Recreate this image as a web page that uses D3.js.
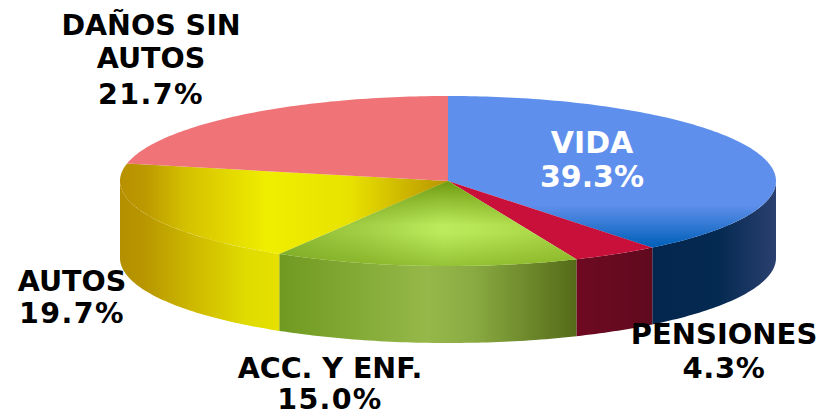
<!DOCTYPE html>
<html><head><meta charset="utf-8">
<script src="https://cdn.jsdelivr.net/npm/d3@7"></script>
<style>html,body{margin:0;background:#fff}svg{display:block}text{font-family:"DejaVu Sans",sans-serif;font-weight:700}</style>
</head><body><svg id="c" width="829" height="416"></svg>
<script>
const categories=["VIDA","PENSIONES","ACC. Y ENF.","AUTOS","DAÑOS SIN AUTOS"];
const values=[39.3,4.3,15.0,19.7,21.7];
const labelLines=[["VIDA","39.3%"],["PENSIONES","4.3%"],["ACC. Y ENF.","15.0%"],["AUTOS","19.7%"],["DAÑOS SIN","AUTOS","21.7%"]];
const topStops=[
 [[0,"#5f8fec"],[1,"#5f8fec"]],
 [[0,"#c8103a"],[1,"#c8103a"]],
 [[0,"#8ab832"],[.3,"#a3d046"],[.55,"#bcec5e"],[1,"#a4d03e"]],
 [[0,"#b89000"],[.08,"#bc9a00"],[.2,"#d4c000"],[.45,"#f0ee00"],[.7,"#e8e200"],[1,"#b89400"]],
 [[0,"#ef7377"],[1,"#ef7377"]]];
const wallStops=[
 [[0,"#03264e"],[.55,"#052a52"],[1,"#2b4070"]],
 [[0,"#6e0a22"],[1,"#600a1e"]],
 [[0,"#6f9a20"],[.5,"#96b84a"],[.65,"#8aab42"],[1,"#556b18"]],
 [[0,"#b48f00"],[.15,"#b89600"],[.45,"#cdb800"],[.8,"#e0dc00"],[1,"#e6e000"]],
 [[0,"#d0646a"],[1,"#d0646a"]]];
const labelLayout=[
 {x:592,y:[153,187],size:30,fill:"#fff",pct:0},
 {x:724,y:[344,378],size:29,fill:"#000",pct:.7},
 {x:330,y:[378,409],size:28.5,fill:"#000",pct:1.3},
 {x:72,y:[291,323],size:28.5,fill:"#000",pct:1.4},
 {x:151,y:[35,68,104],size:28.5,fill:"#000",pct:1.4}];

const cx=448,cy=181,rx=328,ry=85,depth=77;
const svg=d3.select("#c"),defs=svg.append("defs");
const arcs=d3.pie().sort(null).value(d=>d)(values);
const px=a=>cx+rx*Math.sin(a),py=a=>cy-ry*Math.cos(a);
const line=d3.line();
function grad(id,stops,x1,x2){
 const g=defs.append("linearGradient").attr("id",id).attr("gradientUnits","userSpaceOnUse")
  .attr("x1",x1).attr("x2",x2).attr("y1",0).attr("y2",0);
 stops.forEach(s=>g.append("stop").attr("offset",s[0]).attr("stop-color",s[1]));
}
function samples(a0,a1){const n=Math.max(2,Math.ceil((a1-a0)*60));return d3.range(0,n+1).map(i=>a0+(a1-a0)*i/n);}
const lo=Math.PI/2,hi=Math.PI*1.5;
arcs.forEach((d,i)=>{
 const a0=Math.max(d.startAngle,lo),a1=Math.min(d.endAngle,hi);
 if(a1<=a0)return;
 const pts=samples(a0,a1);
 const e=d3.extent(pts.map(px));
 grad("w"+i,wallStops[i],e[0],e[1]);
 const poly=pts.map(a=>[px(a),py(a)]).concat(pts.slice().reverse().map(a=>[px(a),py(a)+depth]));
 svg.append("path").attr("d",line(poly)+"Z").attr("fill",`url(#w${i})`);
});
const sector=d=>line([[cx,cy],...samples(d.startAngle,d.endAngle).map(a=>[px(a),py(a)])])+"Z";
arcs.forEach((d,i)=>{
 const e=d3.extent(samples(d.startAngle,d.endAngle).map(px).concat([cx]));
 grad("t"+i,topStops[i],e[0],e[1]);
 svg.append("path").attr("d",sector(d)).attr("fill",`url(#t${i})`);
});
function vgrad(id,color,y1,o1,y2,o2){
 const g=defs.append("linearGradient").attr("id",id).attr("gradientUnits","userSpaceOnUse")
  .attr("x1",0).attr("x2",0).attr("y1",y1).attr("y2",y2);
 g.append("stop").attr("offset",0).attr("stop-color",color).attr("stop-opacity",o1);
 g.append("stop").attr("offset",1).attr("stop-color",color).attr("stop-opacity",o2);
}
vgrad("blueShade","#0060b8",cy+24,0,cy+66,1);
vgrad("greenShade","#6f9a10",cy,1,cy+44,0);
vgrad("greenLow","#6f9a10",cy+52,0,cy+85,.5);
[[0,"blueShade"],[2,"greenShade"],[2,"greenLow"]].forEach(([i,f])=>{
 svg.append("path").attr("d",sector(arcs[i])).attr("fill",`url(#${f})`);
});
labelLines.forEach((ls,i)=>{
 const p=labelLayout[i];
 ls.forEach((t,j)=>svg.append("text").attr("x",p.x).attr("y",p.y[j]).attr("text-anchor","middle")
  .attr("font-size",p.size).attr("fill",p.fill).attr("letter-spacing",t.endsWith("%")?p.pct:0).text(t));
});
</script></body></html>
